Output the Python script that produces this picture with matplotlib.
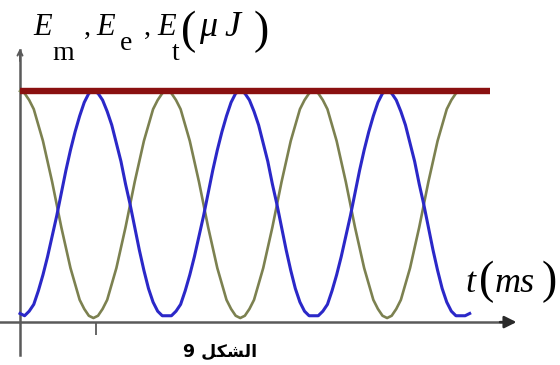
"""Energy exchange in an LC circuit: E_e, E_m and E_t versus time (figure 9)."""

import matplotlib

matplotlib.use("Agg")
import matplotlib.pyplot as plt
import numpy as np

T_STEP = 0.125
period_e = [1.00, 0.99, 0.96, 0.92, 0.85, 0.78, 0.69, 0.60, 0.50, 0.40, 0.31, 0.22,
            0.15, 0.08, 0.04, 0.01, 0.00, 0.01, 0.04, 0.08, 0.15, 0.22, 0.31, 0.40,
            0.50, 0.60, 0.69, 0.78, 0.85, 0.92, 0.96, 0.99]
e_elec = period_e * 3 + [1.00]
period_m = [0.01, 0.01, 0.03, 0.06, 0.12, 0.19, 0.27, 0.36, 0.45, 0.55, 0.65, 0.74,
            0.82, 0.89, 0.95, 0.99, 1.00, 0.99, 0.96, 0.91, 0.85, 0.77, 0.69, 0.59,
            0.50, 0.40, 0.30, 0.21, 0.13, 0.07, 0.03, 0.01]
e_mag = [0.02] + period_m[1:] + period_m * 2 + [0.01, 0.01, 0.02]
t_total = [0.0, 12.8]
e_total = [1.0, 1.0]

t_elec = np.arange(len(e_elec)) * T_STEP
t_mag = np.arange(len(e_mag)) * T_STEP

GREEN = "#7c8150"
BLUE = "#2b28c8"
RED = "#8a1010"
AXIS = "#5a5a5a"
SERIF = "Liberation Serif"
W, H = 560, 365

fig = plt.figure(figsize=(W / 100, H / 100), dpi=100)
ax = fig.add_axes([0, 0, 1, 1])
ax.set_xlim(-0.545, 14.71)
ax.set_ylim(-0.207, 1.401)

ax.plot(t_elec, e_elec, color=GREEN, lw=1.9, zorder=3)
ax.plot(t_mag, e_mag, color=BLUE, lw=2.2, zorder=4)
ax.plot(t_total, e_total, color=RED, lw=4.6, solid_capstyle="butt", zorder=5)

# axes through the origin, with arrows
for side in ("top", "right"):
    ax.spines[side].set_visible(False)
ax.spines["left"].set_position(("data", 0))
ax.spines["left"].set_bounds(-0.163, 1.18)
ax.spines["bottom"].set_position(("data", -0.018))
ax.spines["bottom"].set_bounds(-0.545, 13.3)
for side in ("left", "bottom"):
    ax.spines[side].set_color(AXIS)
    ax.spines[side].set_linewidth(1.8)
ax.set_yticks([])
ax.set_xticks([2.07])
ax.set_xticklabels([])
ax.tick_params(axis="x", direction="out", length=9, width=1.3, color=AXIS)

ax.annotate("", xy=(13.6, -0.018), xytext=(13.0, -0.018),
            arrowprops=dict(arrowstyle="-|>", color="#2a2a2a", lw=1.8, mutation_scale=18))
ax.annotate("", xy=(0, 1.20), xytext=(0, 1.12),
            arrowprops=dict(arrowstyle="->", color=AXIS, lw=1.4, mutation_scale=9))


def put(x, y, s, size, style="italic"):
    """Text with its left edge at x and its baseline at y, in picture pixels."""
    fig.text(x / W, 1 - y / H, s, fontsize=size, family=SERIF, style=style,
             ha="left", va="baseline")


# y-axis label: E_m , E_e , E_t (uJ)
put(33, 35, "E", 22)
put(52, 60, "m", 20, "normal")
put(84, 35, ",", 20, "normal")
put(96, 35, "E", 22)
put(120, 50, "e", 20, "normal")
put(144, 35, ",", 20, "normal")
put(157, 35, "E", 22)
put(172, 60, "t", 20, "normal")
put(181, 43, "(", 33, "normal")
put(199, 36, "\u03bc", 26)
put(224, 36, "J", 26)
put(254, 43, ")", 33, "normal")

# x-axis label: t (ms)
put(465, 292, "t", 26)
put(479, 293, "(", 33, "normal")
put(495, 292, "ms", 26)
put(542, 293, ")", 33, "normal")

fig.text(0.393, 0.036, "9 \ufede\ufedc\ufeb8\ufedf\ufe8d", fontsize=12.5, fontweight="bold",
         family=["DejaVu Sans"], ha="center", va="center")

fig.savefig("out.png", dpi=100)
